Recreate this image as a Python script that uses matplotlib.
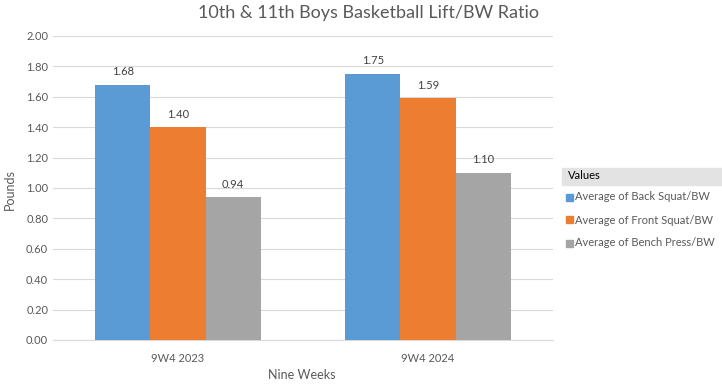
import matplotlib
matplotlib.use('Agg')
import matplotlib.pyplot as plt
from matplotlib.patches import Rectangle
import numpy as np

plt.rcParams['font.family'] = ['Lato', 'DejaVu Sans']

categories = ['9W4 2023', '9W4 2024']
series = ['Average of Back Squat/BW', 'Average of Front Squat/BW', 'Average of Bench Press/BW']
back_squat = [1.68, 1.75]
front_squat = [1.40, 1.59]
bench_press = [0.94, 1.10]
colors = ['#5B9BD5', '#ED7D31', '#A5A5A5']
txt = '#595959'

fig = plt.figure(figsize=(7.22, 3.84), dpi=100)
ax = fig.add_axes([53/722, 1-340/384, 500/722, 304/384])

x = np.arange(len(categories))
w = 0.221
for i, (vals, c) in enumerate(zip([back_squat, front_squat, bench_press], colors)):
    pos = x + (i-1)*w
    ax.bar(pos, vals, w, color=c, zorder=3)
    for p, v in zip(pos, vals):
        ax.text(p, v+0.05, '%.2f' % v, ha='center', va='bottom', fontsize=8, color='#404040')

ax.set_xlim(-0.5, 1.5)
ax.set_ylim(0, 2.0)
ax.set_yticks(np.arange(0, 2.01, 0.2))
ax.set_yticklabels(['%.2f' % t for t in np.arange(0, 2.01, 0.2)])
ax.set_xticks(x)
ax.set_xticklabels(categories)
ax.tick_params(length=0, labelsize=8, colors=txt)
ax.tick_params(axis='x', pad=9)
ax.grid(axis='y', color='#D9D9D9', lw=0.8, zorder=0)
for s in ['top', 'right', 'left']:
    ax.spines[s].set_visible(False)
ax.spines['bottom'].set_color('#D9D9D9')
fig.text(302/722, 1-375/384, 'Nine Weeks', fontsize=9, color=txt, ha='center', va='center')
fig.text(10/722, 1-190/384, 'Pounds', fontsize=9, color=txt, ha='center', va='center', rotation=90)
fig.text(369/722, 1-13/384, '10th & 11th Boys Basketball Lift/BW Ratio',
         ha='center', va='center', fontsize=13, color=txt)

# legend block on the right
fig.patches.append(Rectangle((562/722, 1-185/384), 160/722, 17/384,
                             transform=fig.transFigure, color='#E3E3E3', zorder=0))
fig.text(568/722, 1-176/384, 'Values', fontsize=8, color='black', va='center')
for i, (name, c) in enumerate(zip(series, colors)):
    yy = 1-(197+23*i)/384
    fig.patches.append(Rectangle((566/722, yy-3.5/384), 7/722, 7/384,
                                 transform=fig.transFigure, color=c))
    fig.text(575/722, yy, name, fontsize=8, color=txt, va='center')

fig.savefig('out.png', dpi=100)
